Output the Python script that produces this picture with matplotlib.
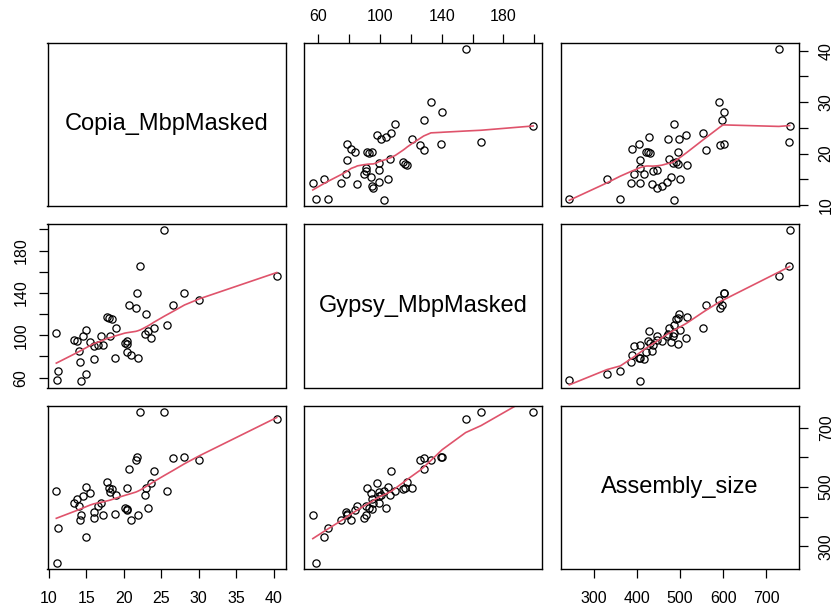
import numpy as np
import matplotlib
matplotlib.use("Agg")
import matplotlib.pyplot as plt

plt.rcParams["font.family"] = ["Liberation Sans", "DejaVu Sans"]

# Transposon content (Mbp, masked) and assembly size per genome
copia = [25.4, 22.2, 40.4, 21.8, 28.1, 30.1, 20.7, 21.6, 26.6, 22.9, 17.7,
         18.0, 18.4, 25.7, 24.0, 18.9, 15.0, 11.0, 23.2, 22.8, 14.5, 16.9,
         18.1, 23.6, 13.4, 13.8, 15.5, 20.1, 20.4, 20.4, 16.0, 16.6, 17.2,
         14.0, 20.4, 20.9, 21.9, 18.8, 16.0, 14.2, 11.2, 15.0, 11.1, 14.3]
gypsy = [199.3, 165.5, 155.5, 139.8, 140.3, 133.0, 128.2, 125.8, 128.3, 120.5,
         117.6, 116.5, 114.9, 110.0, 107.2, 106.6, 105.4, 102.4, 103.6, 100.8,
         99.3, 99.1, 99.1, 97.7, 95.6, 95.0, 94.0, 93.0, 94.5, 91.8, 89.5,
         90.8, 90.8, 85.3, 84.0, 81.3, 78.6, 78.4, 77.6, 74.7, 66.4, 63.6,
         58.2, 56.4]
assembly = [754, 753, 729, 601, 601, 591, 561, 592, 598, 497, 517, 495, 492,
            486, 553, 474, 500, 487, 429, 473, 469, 447, 483, 514, 447, 458,
            479, 430, 427, 495, 394, 437, 407, 435, 422, 388, 406, 408, 416,
            387, 362, 331, 244, 407]

names = ["Copia_MbpMasked", "Gypsy_MbpMasked", "Assembly_size"]
data = [np.array(copia), np.array(gypsy), np.array(assembly, dtype=float)]

# tick positions, and which of them get a label on the x / y sides
ticks = [[10, 15, 20, 25, 30, 35, 40],
         [60, 80, 100, 120, 140, 160, 180, 200],
         [300, 400, 500, 600, 700]]
x_labelled = [[10, 15, 20, 25, 30, 35, 40],
              [60, 100, 140, 180],
              [300, 400, 500, 600, 700]]
y_labelled = [[10, 20, 30, 40],
              [60, 100, 140, 180],
              [300, 500, 700]]


def lowess(x, y, f=2 / 3, iters=3):
    order = np.argsort(x, kind="stable")
    x = np.asarray(x, float)[order]
    y = np.asarray(y, float)[order]
    n = len(x)
    ns = max(min(int(f * n + 1e-7), n), 2)
    rw = np.ones(n)
    fit = np.zeros(n)
    xr = x[-1] - x[0]
    for it in range(iters + 1):
        for i in range(n):
            d = np.abs(x - x[i])
            h = np.sort(d)[ns - 1]
            w = np.zeros(n)
            if h > 0:
                r = d / h
                w = np.where(d <= 0.999 * h, (1 - r ** 3) ** 3, 0.0)
                w[d <= 0.001 * h] = 1.0
            else:
                w[d == 0] = 1.0
            w = w * rw
            if w.sum() <= 0:
                fit[i] = y[i]
                continue
            w = w / w.sum()
            if h > 0:
                a = np.sum(w * x)
                c = np.sum(w * (x - a) ** 2)
                if np.sqrt(c) > 0.001 * xr:
                    w = w * ((x[i] - a) / c * (x - a) + 1)
            fit[i] = np.sum(w * y)
        if it == iters:
            break
        res = np.abs(y - fit)
        cmad = 6 * np.median(res)
        if cmad < 1e-7 * np.mean(np.abs(y)):
            break
        u = res / cmad
        rw = np.where(res <= 0.999 * cmad, (1 - u ** 2) ** 2, 0.0)
        rw[res <= 0.001 * cmad] = 1.0
    return x, fit


def limits(v):
    pad = 0.04 * (v.max() - v.min())
    return v.min() - pad, v.max() + pad


W, H = 832, 609
fig = plt.figure(figsize=(W / 100, H / 100), dpi=100)
col_left = [47.5, 304, 560.5]
row_top = [42.5, 224, 405.5]
pw, ph = 238, 163.5

for r in range(3):
    for c in range(3):
        ax = fig.add_axes([col_left[c] / W, 1 - (row_top[r] + ph) / H, pw / W, ph / H])
        ax.set_xlim(limits(data[c]))
        ax.set_ylim(limits(data[r]))
        for s in ax.spines.values():
            s.set_linewidth(1.0)

        if r == c:
            ax.text(0.5, 0.5, names[r], ha="center", va="center",
                    fontsize=17, transform=ax.transAxes)
        else:
            ax.plot(data[c], data[r], "o", mfc="none", mec="black", ms=5.2, mew=0.9)
            xs, ys = lowess(data[c], data[r])
            ax.plot(xs, ys, color="#DF536B", lw=1.2)

        ax.set_xticks(ticks[c], [str(t) if t in x_labelled[c] else "" for t in ticks[c]])
        ax.set_yticks(ticks[r], [str(t) if t in y_labelled[r] else "" for t in ticks[r]])
        ax.tick_params(length=6.5, width=0.9, pad=7, labelsize=11.5,
                       bottom=False, top=False, left=False, right=False,
                       labelbottom=False, labeltop=False, labelleft=False, labelright=False)

        # axes alternate sides like a scatterplot matrix
        if r == 2 and c in (0, 2):
            ax.tick_params(axis="x", bottom=True, labelbottom=True, pad=9.5)
        if r == 0 and c == 1:
            ax.tick_params(axis="x", top=True, labeltop=True)
        if c == 0 and r == 1:
            ax.tick_params(axis="y", left=True, labelleft=True, labelrotation=90)
        if c == 2 and r in (0, 2):
            ax.tick_params(axis="y", right=True, labelright=True, labelrotation=90, pad=8)
        for lbl in ax.get_yticklabels():
            lbl.set_va("center")

fig.savefig("out.png", dpi=100)
